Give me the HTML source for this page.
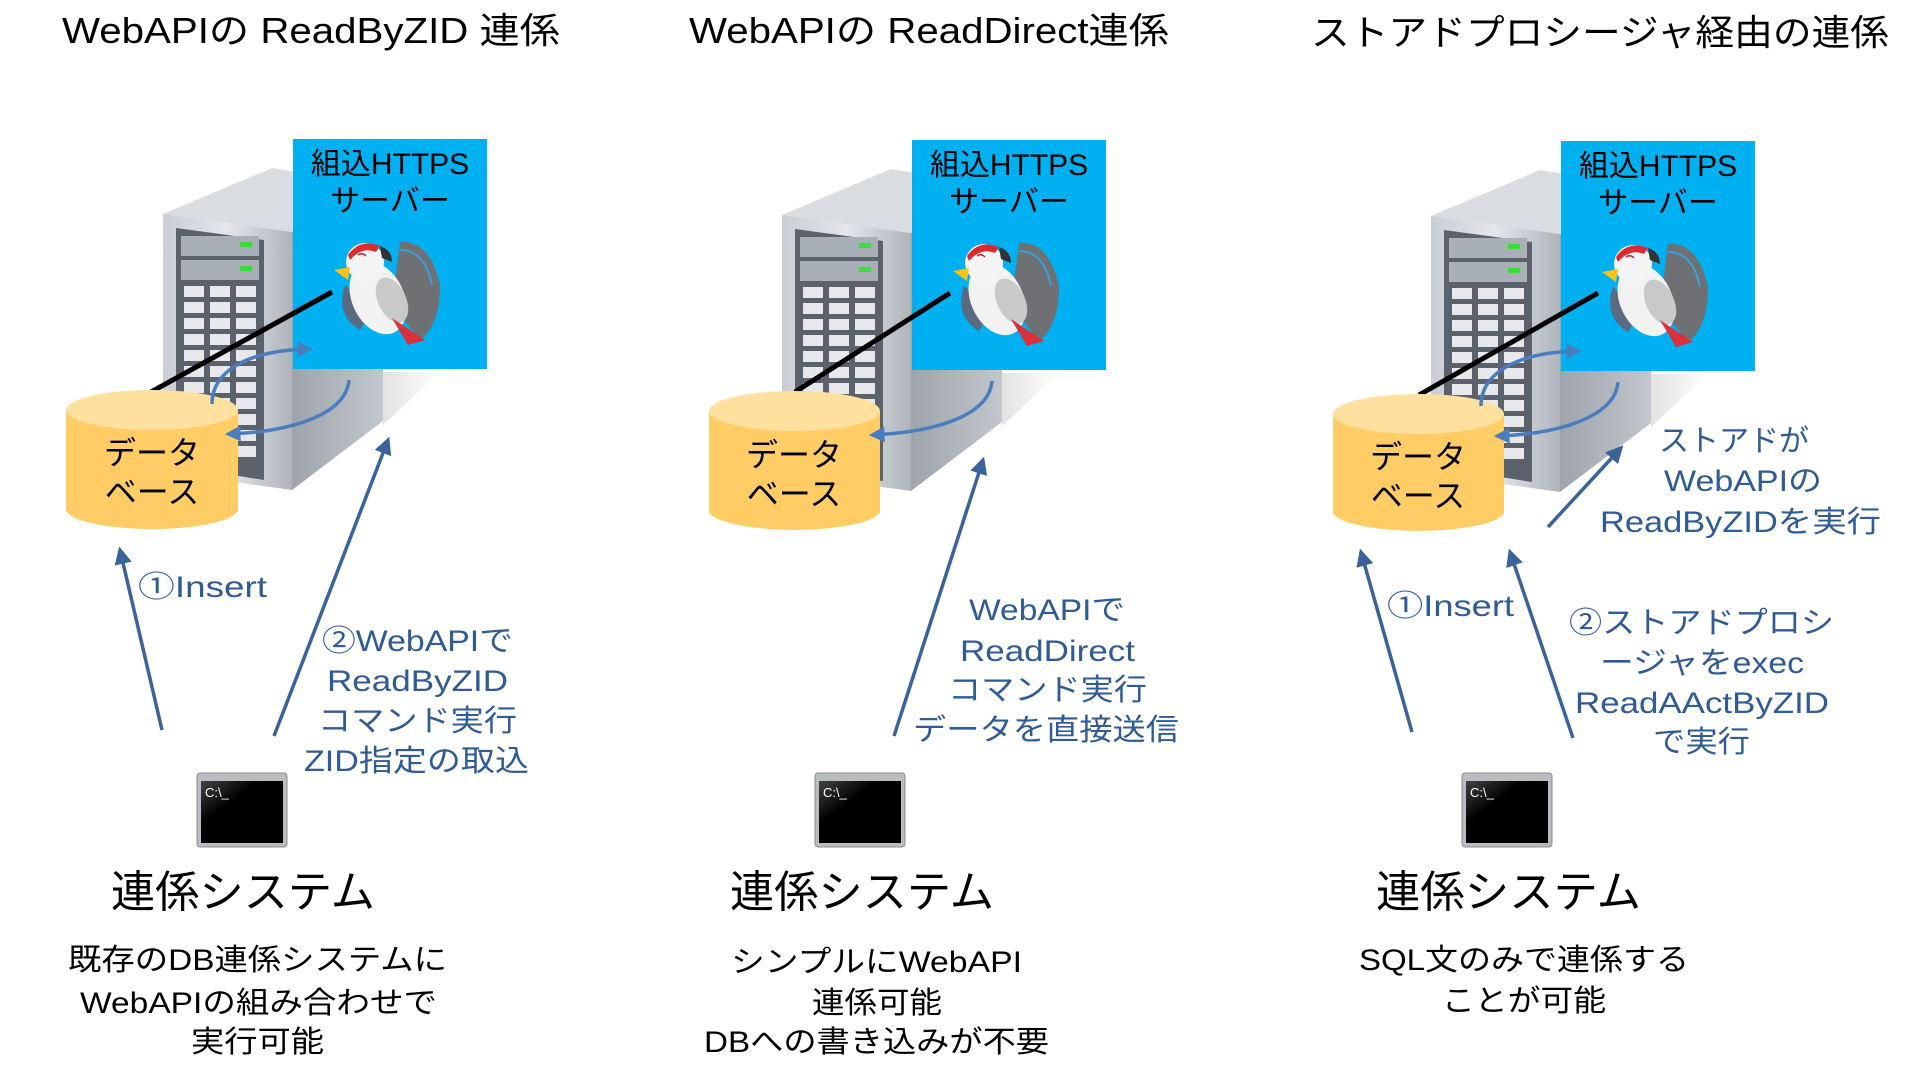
<!DOCTYPE html>
<html><head><meta charset="utf-8"><style>
html,body{margin:0;padding:0;background:#fff;width:1920px;height:1081px;overflow:hidden}
svg{display:block}
text{font-family:"Liberation Sans","Noto Sans CJK JP",sans-serif}
</style></head><body>
<svg width="1920" height="1081" viewBox="0 0 1920 1081" xmlns="http://www.w3.org/2000/svg">
<defs>
<linearGradient id="front" x1="0" y1="0" x2="1" y2="0"><stop offset="0" stop-color="#c9ced4"/><stop offset="0.5" stop-color="#e3e6ea"/><stop offset="1" stop-color="#aeb4bb"/></linearGradient>
<linearGradient id="side" x1="0" y1="0" x2="1" y2="0"><stop offset="0" stop-color="#9ea4ab"/><stop offset="1" stop-color="#c2c7cd"/></linearGradient>
<linearGradient id="shadow" x1="0" y1="0" x2="1" y2="0"><stop offset="0" stop-color="#e2e2e2"/><stop offset="1" stop-color="#ffffff"/></linearGradient>
<linearGradient id="termgrad" x1="0" y1="0" x2="1" y2="1"><stop offset="0" stop-color="#444"/><stop offset="0.35" stop-color="#000"/></linearGradient>
<marker id="ah" viewBox="0 0 10 10" refX="8" refY="5" markerWidth="5" markerHeight="5" orient="auto-start-reverse"><path d="M0,0 L10,5 L0,10 z" fill="#3a6399"/></marker>
<marker id="ah2" viewBox="0 0 10 10" refX="8" refY="5" markerWidth="4.5" markerHeight="4.5" orient="auto-start-reverse"><path d="M0,0 L10,5 L0,10 z" fill="#4a7dbd"/></marker>
<g id="srv">
  <polygon points="383,372 440,372 383,425" fill="url(#shadow)"/>
  <polygon points="163,214 272,168 383,186 292,232" fill="#d9dde2"/>
  <polygon points="292,232 383,186 383,421 292,490" fill="url(#side)"/>
  <polygon points="163,214 292,232 292,490 163,472" fill="url(#front)"/>
  <polygon points="176,228 264,240 264,480 176,466" fill="#5b626b"/>
  <rect x="181" y="236" width="78" height="20" fill="#a8afb7"/>
  <rect x="240" y="242" width="12" height="5" fill="#3ddc3d"/>
  <rect x="181" y="260" width="78" height="20" fill="#a8afb7"/>
  <rect x="240" y="266" width="12" height="5" fill="#3ddc3d"/>
  <g fill="#e6e8eb">
    <rect x="184" y="286" width="20" height="11"/><rect x="210" y="286" width="20" height="11"/><rect x="236" y="286" width="20" height="11"/>
    <rect x="184" y="302" width="20" height="11"/><rect x="210" y="302" width="20" height="11"/><rect x="236" y="302" width="20" height="11"/>
    <rect x="184" y="318" width="20" height="11"/><rect x="210" y="318" width="20" height="11"/><rect x="236" y="318" width="20" height="11"/>
    <rect x="184" y="334" width="20" height="11"/><rect x="210" y="334" width="20" height="11"/><rect x="236" y="334" width="20" height="11"/>
    <rect x="184" y="350" width="20" height="11"/><rect x="210" y="350" width="20" height="11"/><rect x="236" y="350" width="20" height="11"/>
    <rect x="184" y="366" width="20" height="11"/><rect x="210" y="366" width="20" height="11"/><rect x="236" y="366" width="20" height="11"/>
    <rect x="184" y="382" width="20" height="11"/><rect x="210" y="382" width="20" height="11"/><rect x="236" y="382" width="20" height="11"/>
    <rect x="184" y="398" width="20" height="11"/><rect x="210" y="398" width="20" height="11"/><rect x="236" y="398" width="20" height="11"/>
    <rect x="184" y="414" width="20" height="11"/><rect x="210" y="414" width="20" height="11"/><rect x="236" y="414" width="20" height="11"/>
    <rect x="184" y="430" width="20" height="11"/><rect x="210" y="430" width="20" height="11"/><rect x="236" y="430" width="20" height="11"/>
    <rect x="184" y="446" width="20" height="11"/><rect x="210" y="446" width="20" height="11"/><rect x="236" y="446" width="20" height="11"/>
  </g>
  <rect x="293" y="139" width="194" height="230" fill="#00b0f0"/>
  <g>
    <path d="M392,305 L400,242 Q430,240 440,285 Q440,325 420,340 Z" fill="#6e7074"/>
    <path d="M400,250 Q425,250 432,285" stroke="#3aa0d8" stroke-width="2" fill="none"/>
    <path d="M345,285 Q335,315 360,330 L372,310 Z" fill="#5a6a80"/>
    <ellipse cx="378" cy="298" rx="26" ry="38" transform="rotate(-25 378 298)" fill="#f2f2f2"/>
    <ellipse cx="392" cy="300" rx="14" ry="24" transform="rotate(-25 392 300)" fill="#c9c9c9"/>
    <path d="M392,318 L425,340 L408,345 Z" fill="#d9303a"/>
    <circle cx="365" cy="262" r="19" fill="#f4f4f4"/>
    <path d="M348,255 Q360,238 380,246 L376,252 Q362,246 350,260 Z" fill="#e0282f"/>
    <path d="M380,246 Q392,250 392,262 L382,258 Z" fill="#333"/>
    <path d="M350,267 L334,270 L348,280 Z" fill="#f7c21a"/>
    <path d="M358,255 Q362,252 366,256" stroke="#c0282f" stroke-width="1.5" fill="none"/>
  </g>
</g>
<g id="termicon">
  <rect x="0" y="0" width="90" height="74" rx="3" fill="#b9bcc0" stroke="#8a8d91"/>
  <rect x="4" y="8" width="82" height="62" fill="url(#termgrad)"/>
  <text x="8" y="24" font-size="13" fill="#fff" font-family="Liberation Mono,monospace">C:\_</text>
</g>
</defs>

<text x="62" y="43" font-size="36" textLength="498" lengthAdjust="spacingAndGlyphs">WebAPIの ReadByZID 連係</text>
<text x="689" y="43" font-size="36" textLength="480" lengthAdjust="spacingAndGlyphs">WebAPIの ReadDirect連係</text>
<text x="1311" y="45" font-size="36" textLength="578" lengthAdjust="spacingAndGlyphs">ストアドプロシージャ経由の連係</text>

<use href="#srv"/>
<use href="#srv" transform="translate(619,1)"/>
<use href="#srv" transform="translate(1268,2)"/>

<g font-size="30" fill="#000" text-anchor="middle">
<text x="390" y="174">組込HTTPS</text><text x="390" y="211">サーバー</text>
<text x="1009" y="175">組込HTTPS</text><text x="1009" y="212">サーバー</text>
<text x="1658" y="176">組込HTTPS</text><text x="1658" y="213">サーバー</text>
</g>

<g stroke="#000" stroke-width="5">
<line x1="151" y1="392" x2="332" y2="292"/>
<line x1="795" y1="392" x2="950" y2="293"/>
<line x1="1419" y1="395" x2="1598" y2="293"/>
</g>

<g>
<path d="M66,410 L66,509 A86,20 0 0 0 238,509 L238,410 Z" fill="#ffcc66"/>
<ellipse cx="152" cy="410" rx="86" ry="20" fill="#ffe09f"/>
<path d="M709,411 L709,512 A86,20 0 0 0 880,512 L880,411 Z" fill="#ffcc66"/>
<ellipse cx="794.5" cy="411" rx="85.5" ry="20" fill="#ffe09f"/>
<path d="M1333,414 L1333,513 A86,20 0 0 0 1504,513 L1504,414 Z" fill="#ffcc66"/>
<ellipse cx="1418.5" cy="414" rx="85.5" ry="20" fill="#ffe09f"/>
</g>
<g font-size="32" text-anchor="middle">
<text x="152" y="464">データ</text><text x="152" y="503">ベース</text>
<text x="794" y="466">データ</text><text x="794" y="505">ベース</text>
<text x="1418" y="468">データ</text><text x="1418" y="507">ベース</text>
</g>

<g stroke="#4a7dbd" stroke-width="3.5" fill="none">
<path d="M212,404 C212,370 250,350 310,349" marker-end="url(#ah2)"/>
<path d="M349,380 C346,415 290,432 228,434" marker-end="url(#ah2)"/>
<path d="M992,381 C989,416 935,432 872,435" marker-end="url(#ah2)"/>
<path d="M1481,406 C1481,372 1519,352 1579,351" marker-end="url(#ah2)"/>
<path d="M1618,382 C1615,417 1559,434 1497,436" marker-end="url(#ah2)"/>
</g>

<g stroke="#3a6399" stroke-width="3.5" fill="none">
<line x1="162" y1="730" x2="120" y2="550" marker-end="url(#ah)"/>
<line x1="274" y1="736" x2="388" y2="440" marker-end="url(#ah)"/>
<line x1="894" y1="736" x2="983" y2="460" marker-end="url(#ah)"/>
<line x1="1412" y1="732" x2="1361" y2="552" marker-end="url(#ah)"/>
<line x1="1573" y1="738" x2="1510" y2="552" marker-end="url(#ah)"/>
<line x1="1548" y1="527" x2="1621" y2="448" marker-end="url(#ah)"/>
</g>

<g font-size="30" fill="#2f5b96">
<text x="138" y="597" textLength="129" lengthAdjust="spacingAndGlyphs">①Insert</text>
<text x="322" y="651" textLength="191" lengthAdjust="spacingAndGlyphs">②WebAPIで</text>
<text x="327" y="691" textLength="181" lengthAdjust="spacingAndGlyphs">ReadByZID</text>
<text x="318" y="731" textLength="199" lengthAdjust="spacingAndGlyphs">コマンド実行</text>
<text x="304" y="771" textLength="225" lengthAdjust="spacingAndGlyphs">ZID指定の取込</text>

<text x="969" y="620" textLength="156" lengthAdjust="spacingAndGlyphs">WebAPIで</text>
<text x="960" y="661" textLength="175" lengthAdjust="spacingAndGlyphs">ReadDirect</text>
<text x="948" y="700" textLength="199" lengthAdjust="spacingAndGlyphs">コマンド実行</text>
<text x="913" y="740" textLength="266" lengthAdjust="spacingAndGlyphs">データを直接送信</text>

<text x="1659" y="451" textLength="150" lengthAdjust="spacingAndGlyphs">ストアドが</text>
<text x="1664" y="491" textLength="158" lengthAdjust="spacingAndGlyphs">WebAPIの</text>
<text x="1600" y="532" textLength="281" lengthAdjust="spacingAndGlyphs">ReadByZIDを実行</text>

<text x="1387" y="616" textLength="127" lengthAdjust="spacingAndGlyphs">①Insert</text>
<text x="1569" y="633" textLength="265" lengthAdjust="spacingAndGlyphs">②ストアドプロシ</text>
<text x="1600" y="673" textLength="204" lengthAdjust="spacingAndGlyphs">ージャをexec</text>
<text x="1575" y="713" textLength="254" lengthAdjust="spacingAndGlyphs">ReadAActByZID</text>
<text x="1653" y="752" textLength="97" lengthAdjust="spacingAndGlyphs">で実行</text>
</g>

<use href="#termicon" transform="translate(197,773)"/>
<use href="#termicon" transform="translate(815,773)"/>
<use href="#termicon" transform="translate(1462,773)"/>

<g font-size="44">
<text x="111" y="907" textLength="264" lengthAdjust="spacingAndGlyphs">連係システム</text>
<text x="730" y="907" textLength="264" lengthAdjust="spacingAndGlyphs">連係システム</text>
<text x="1376" y="907" textLength="265" lengthAdjust="spacingAndGlyphs">連係システム</text>
</g>

<g font-size="30">
<text x="68" y="970" textLength="379" lengthAdjust="spacingAndGlyphs">既存のDB連係システムに</text>
<text x="80" y="1013" textLength="357" lengthAdjust="spacingAndGlyphs">WebAPIの組み合わせで</text>
<text x="191" y="1052" textLength="133" lengthAdjust="spacingAndGlyphs">実行可能</text>

<text x="731" y="972" textLength="291" lengthAdjust="spacingAndGlyphs">シンプルにWebAPI</text>
<text x="812" y="1013" textLength="130" lengthAdjust="spacingAndGlyphs">連係可能</text>
<text x="704" y="1052" textLength="345" lengthAdjust="spacingAndGlyphs">DBへの書き込みが不要</text>

<text x="1359" y="970" textLength="330" lengthAdjust="spacingAndGlyphs">SQL文のみで連係する</text>
<text x="1442" y="1011" textLength="164" lengthAdjust="spacingAndGlyphs">ことが可能</text>
</g>
</svg>
</body></html>
